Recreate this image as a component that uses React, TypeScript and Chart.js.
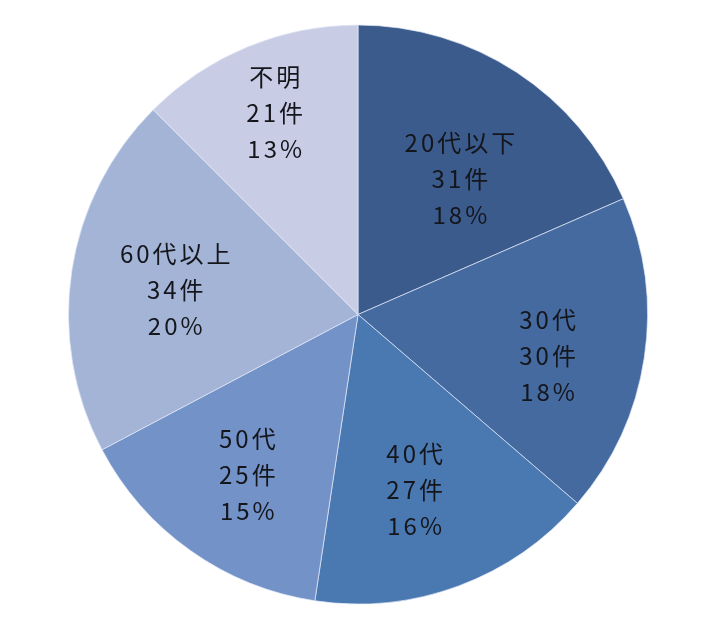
import { useEffect, useRef } from "react";
import { Chart, registerables, Plugin } from "chart.js";

Chart.register(...registerables);

const categories = ["20代以下", "30代", "40代", "50代", "60代以上", "不明"];
const counts = [31, 30, 27, 25, 34, 21];

const sliceColors = [
  "#3b5b8c", // 20代以下
  "#456aa0", // 30代
  "#4a79b2", // 40代
  "#7392c8", // 50代
  "#a4b4d7", // 60代以上
  "#c8cce4", // 不明
];

// where each label block sits: fraction of radius, and turn off the slice middle (deg)
const labelRadius = [0.586, 0.67, 0.638, 0.674, 0.637, 0.752];
const labelTurn = [3.7, 3.6, 2.5, -0.8, -1, 0];

const sliceLabels: Plugin<"pie"> = {
  id: "sliceLabels",
  afterDatasetsDraw(chart) {
    const { ctx } = chart;
    const meta = chart.getDatasetMeta(0);
    const total = counts.reduce((a, b) => a + b, 0);
    ctx.save();
    ctx.font = '24px "Noto Sans CJK JP", sans-serif';
    ctx.fillStyle = "#14161c";
    ctx.textAlign = "center";
    ctx.textBaseline = "middle";
    (ctx as any).letterSpacing = "3px";
    meta.data.forEach((el: any, i) => {
      const mid = (el.startAngle + el.endAngle) / 2 + (labelTurn[i] * Math.PI) / 180;
      const r = el.outerRadius * labelRadius[i];
      const x = el.x + Math.cos(mid) * r;
      const y = el.y + Math.sin(mid) * r;
      const pct = Math.round((counts[i] / total) * 100);
      const lines = [categories[i], `${counts[i]}件`, `${pct}%`];
      lines.forEach((t, j) => {
        ctx.fillText(t, x + 1.5, y + (j - 1) * 36);
      });
    });
    ctx.restore();
  },
};

export default function App() {
  const chartRef = useRef<HTMLCanvasElement>(null);
  const chartInstance = useRef<Chart | null>(null);

  useEffect(() => {
    if (!chartRef.current) return;
    if (chartInstance.current) {
      chartInstance.current.destroy();
    }
    const ctx = chartRef.current.getContext("2d");
    if (!ctx) return;

    chartInstance.current = new Chart(ctx, {
      type: "pie",
      data: {
        labels: categories,
        datasets: [
          {
            data: counts,
            backgroundColor: sliceColors,
            borderColor: "rgba(225,232,246,0.7)",
            borderWidth: 1,
          },
        ],
      },
      options: {
        responsive: true,
        maintainAspectRatio: false,
        animation: false,
        layout: { padding: { left: 68, right: 68, top: 24, bottom: 25 } },
        plugins: {
          legend: { display: false },
          tooltip: { enabled: false },
        },
      },
      plugins: [sliceLabels],
    });

    return () => {
      if (chartInstance.current) {
        chartInstance.current.destroy();
      }
    };
  }, []);

  return (
    <div
      style={{
        position: "absolute",
        left: 0,
        top: 0,
        width: 716,
        height: 630,
        background: "#fff",
      }}
    >
      <canvas ref={chartRef} />
    </div>
  );
}
